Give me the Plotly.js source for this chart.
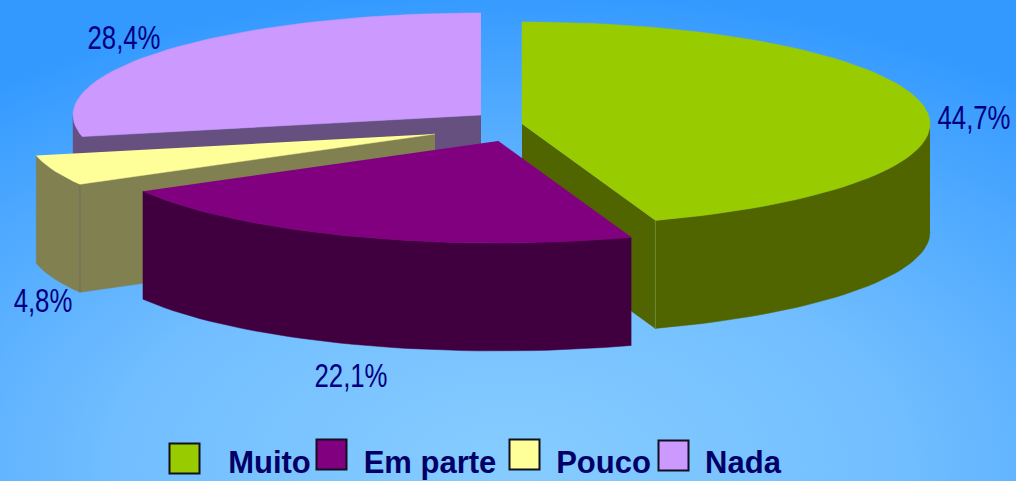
<!DOCTYPE html>
<html>
<head>
<meta charset="utf-8">
<script src="https://cdn.plot.ly/plotly-3.0.1.min.js"></script>
<style>
html,body{margin:0;padding:0;width:1016px;height:481px;overflow:hidden;
background:radial-gradient(ellipse 860px 480px at 50% 97%, #86ccff 0%, #72beff 45%, #3399ff 100%);}
#chart{width:1016px;height:481px;}
</style>
</head>
<body>
<div id="chart"></div>
<script>
// ---- data ----
var categories = ['Muito', 'Em parte', 'Pouco', 'Nada'];
var values = [44.7, 22.1, 4.8, 28.4];

// ---- styling and geometry of the exploded, tilted pie ----
var topColors  = ['#99cc00', '#800080', '#ffff99', '#cc99ff'];
var wallColors = ['#506400', '#400040', '#808050', '#665080'];
var seamColors = ['#6f8c30', '#400040', '#6f7060', '#665080'];
var apexX = [522, 498, 435, 481];
var apexY = [124, 141, 134, 115];
var labelX = [974, 351, 43, 124];
var labelY = [121, 379, 304, 41];
var swatchX = [184.5, 331.5, 524.5, 673.5];
var swatchY = [458.5, 454.5, 454.5, 455.5];
var nameX = [269.5, 430, 603.5, 743];
var nameY = [465, 465, 465, 465];
var drawOrder = [3, 2, 0, 1];
var RX = 408, RY = 102, DEPTH = 108, STEP = 2;
var NARROW = 0.78;

var total = values.reduce(function (a, b) { return a + b; }, 0);
var startAngle = [], endAngle = [], run = 0;
values.forEach(function (v, i) {
  startAngle[i] = run / total * 360;
  run += v;
  endAngle[i] = run / total * 360;
});

function rim(i, deg, drop) {
  var t = deg * Math.PI / 180;
  return [apexX[i] + RX * Math.sin(t), apexY[i] - RY * Math.cos(t) + (drop || 0)];
}
function arc(i, a, b, drop) {
  var pts = [];
  for (var d = a; d < b; d += STEP) pts.push(rim(i, d, drop));
  pts.push(rim(i, b, drop));
  return pts;
}
function poly(pts, color) {
  return {
    type: 'scatter', mode: 'lines', fill: 'toself', fillcolor: color,
    x: pts.map(function (p) { return p[0]; }),
    y: pts.map(function (p) { return p[1]; }),
    line: {width: 0.5, color: color}, showlegend: false, hoverinfo: 'skip'
  };
}
function seam(pts, color) {
  return {
    type: 'scatter', mode: 'lines',
    x: pts.map(function (p) { return p[0]; }),
    y: pts.map(function (p) { return p[1]; }),
    line: {width: 1, color: color}, showlegend: false, hoverinfo: 'skip'
  };
}

var traces = [];
drawOrder.forEach(function (i) {
  var a = startAngle[i], b = endAngle[i];
  var cutAngle = null;
  if (a > 180 && a < 360) cutAngle = a;
  else if (b > 0 && b < 180) cutAngle = b;
  // outer wall (front half of the rim only)
  var fa = Math.max(a, 90), fb = Math.min(b, 270);
  if (fb > fa) {
    var up = arc(i, fa, fb, 0);
    var down = arc(i, fa, fb, DEPTH).reverse();
    traces.push(poly(up.concat(down), wallColors[i]));
  }
  // inner wall along the cut edge
  if (cutAngle !== null) {
    var c = rim(i, cutAngle, 0), d = rim(i, cutAngle, DEPTH);
    traces.push(poly([[apexX[i], apexY[i]], c, d, [apexX[i], apexY[i] + DEPTH]], wallColors[i]));
    traces.push(seam([c, d], seamColors[i]));
  }
  // top face
  traces.push(poly([[apexX[i], apexY[i]]].concat(arc(i, a, b, 0)), topColors[i]));
});

// percentage labels
traces.push({
  type: 'scatter', mode: 'text', x: labelX, y: labelY,
  text: values.map(function (v) { return v.toFixed(1).replace('.', ',') + '%'; }),
  textposition: 'middle center',
  textfont: {family: '"Liberation Sans", Arial, sans-serif', size: 33, color: '#000080'},
  showlegend: false, hoverinfo: 'skip'
});
// legend swatches
traces.push({
  type: 'scatter', mode: 'markers', x: swatchX, y: swatchY,
  marker: {symbol: 'square', size: 30, color: topColors, line: {width: 2, color: '#101020'}},
  showlegend: false, hoverinfo: 'skip'
});
// legend names
traces.push({
  type: 'scatter', mode: 'text', x: nameX, y: nameY, text: categories,
  textposition: 'middle center',
  textfont: {family: '"Liberation Sans", Arial, sans-serif', size: 31, weight: 700, color: '#000066'},
  showlegend: false, hoverinfo: 'skip'
});

var layout = {
  width: 1016, height: 481,
  margin: {l: 0, r: 0, t: 0, b: 0},
  paper_bgcolor: 'rgba(0,0,0,0)', plot_bgcolor: 'rgba(0,0,0,0)',
  xaxis: {range: [0, 1016], visible: false, fixedrange: true},
  yaxis: {range: [481, 0], visible: false, fixedrange: true},
  showlegend: false, hovermode: false
};
Plotly.newPlot('chart', traces, layout, {displayModeBar: false, staticPlot: true}).then(function (gd) {
  // condense the percentage labels (the original uses a narrow typeface)
  gd.querySelectorAll('.textpoint text').forEach(function (t) {
    if (/%$/.test(t.textContent)) {
      t.setAttribute('textLength', (t.getComputedTextLength() * NARROW).toFixed(1));
      t.setAttribute('lengthAdjust', 'spacingAndGlyphs');
    }
  });
});
</script>
</body>
</html>
